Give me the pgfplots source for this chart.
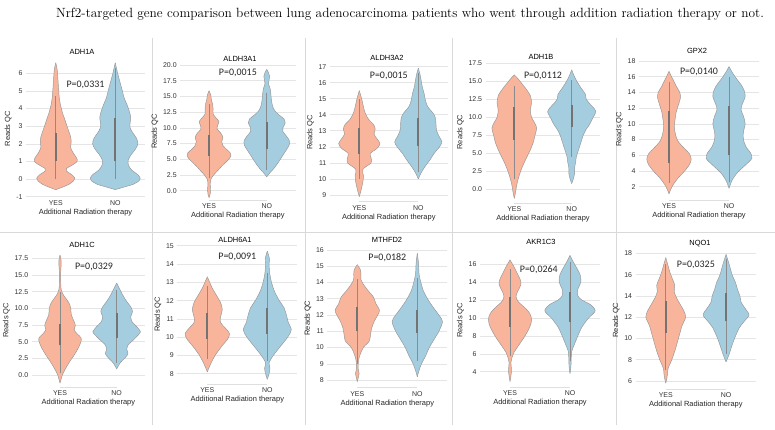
\documentclass[border=0pt]{standalone}
\usepackage{fontspec}
\newfontfamily\arial{Liberation Sans}
\newfontfamily\calibri{Carlito}
\usepackage{pgfplots}
\pgfplotsset{compat=1.18}
\usepackage{pgfplotstable}
\usepgfplotslibrary{fillbetween}

\definecolor{yescol}{HTML}{F8B59C}
\definecolor{nocol}{HTML}{A4CDE0}
\definecolor{vedge}{HTML}{959595}
\definecolor{sep}{HTML}{D9D9D9}

% violin outlines: y, half width (category units)
\pgfplotstableread{
y w
-0.6 0
-0.45 0.12
-0.3 0.22
-0.1 0.3
0.05 0.32
0.25 0.27
0.45 0.18
0.6 0.18
0.8 0.28
1.0 0.36
1.2 0.35
1.5 0.29
1.8 0.25
2.1 0.26
2.4 0.25
2.7 0.22
3.0 0.19
3.4 0.15
3.8 0.11
4.2 0.08
4.6 0.06
5.0 0.05
5.5 0.04
6.0 0.03
6.3 0.02
6.6 0
}\pAy
\pgfplotstableread{
y w
-0.6 0
-0.45 0.15
-0.3 0.3
-0.1 0.4
0.05 0.42
0.25 0.38
0.5 0.28
0.8 0.22
1.1 0.22
1.4 0.27
1.7 0.34
2.0 0.38
2.3 0.36
2.6 0.3
2.9 0.25
3.2 0.25
3.5 0.26
3.8 0.24
4.2 0.2
4.6 0.15
5.0 0.12
5.5 0.08
6.0 0.04
6.3 0.02
6.6 0
}\pAn
\pgfplotstableread{
y w
-1.1 0
-0.5 0.02
0.3 0.025
1.0 0.02
1.8 0.03
2.5 0.08
3.2 0.15
4.0 0.23
4.8 0.32
5.5 0.38
6.0 0.37
6.6 0.3
7.2 0.24
7.8 0.22
8.5 0.24
9.2 0.2
9.8 0.14
10.4 0.15
11.0 0.17
11.6 0.12
12.2 0.07
13.0 0.07
13.8 0.06
14.5 0.04
15.2 0.03
15.9 0
}\pBy
\pgfplotstableread{
y w
2.2 0
2.8 0.05
3.5 0.12
4.5 0.2
5.5 0.27
6.5 0.34
7.3 0.39
8.0 0.39
8.7 0.34
9.4 0.28
10.0 0.28
10.8 0.32
11.4 0.3
12.0 0.22
12.7 0.14
13.5 0.1
14.5 0.08
15.5 0.07
16.2 0.06
17.0 0.03
17.6 0.04
18.2 0.05
18.8 0.03
19.3 0
}\pBn
\pgfplotstableread{
y w
8.9 0
9.3 0.03
9.8 0.06
10.2 0.07
10.6 0.06
11.0 0.2
11.3 0.2
11.6 0.19
11.9 0.3
12.2 0.35
12.5 0.3
12.8 0.25
13.1 0.27
13.4 0.24
13.7 0.16
14.1 0.1
14.5 0.07
15.0 0.04
15.5 0
}\pCy
\pgfplotstableread{
y w
10.0 0
10.4 0.05
10.8 0.12
11.2 0.2
11.6 0.27
12.0 0.36
12.3 0.4
12.6 0.36
13.0 0.31
13.4 0.3
13.8 0.29
14.1 0.25
14.5 0.16
14.9 0.12
15.3 0.1
15.7 0.07
16.1 0.05
16.5 0.03
16.9 0
}\pCn
\pgfplotstableread{
y w
-1.25 0
-0.5 0.02
0.5 0.04
1.5 0.07
2.5 0.11
3.5 0.16
4.5 0.22
5.5 0.28
6.5 0.33
7.5 0.36
8.5 0.39
9.3 0.35
10.0 0.3
11.0 0.28
12.0 0.3
13.0 0.28
14.0 0.2
14.8 0.12
15.4 0.06
15.9 0
}\pDy
\pgfplotstableread{
y w
0.8 0
1.5 0.03
2.2 0.05
3.0 0.05
3.8 0.07
4.5 0.08
5.5 0.12
6.5 0.16
7.5 0.2
8.3 0.25
9.0 0.31
9.8 0.36
10.8 0.42
11.5 0.36
12.0 0.3
12.6 0.25
13.2 0.24
14.0 0.17
15.0 0.09
15.8 0.04
16.6 0
}\pDn
\pgfplotstableread{
y w
1.1 0
2.0 0.05
3.0 0.14
4.0 0.26
4.8 0.34
5.5 0.37
6.2 0.34
7.0 0.24
7.8 0.15
8.6 0.11
9.5 0.09
10.5 0.1
11.5 0.12
12.5 0.16
13.3 0.19
14.0 0.18
14.8 0.12
15.6 0.07
16.2 0.03
16.7 0
}\pEy
\pgfplotstableread{
y w
1.8 0
2.8 0.05
3.8 0.14
4.8 0.28
5.6 0.38
6.3 0.36
7.0 0.29
8.0 0.24
9.0 0.24
10.0 0.27
11.0 0.24
11.8 0.2
12.5 0.22
13.5 0.27
14.3 0.25
15.0 0.2
15.8 0.12
16.6 0.05
17.3 0
}\pEn
\pgfplotstableread{
y w
-1.2 0
-0.6 0.02
0 0.04
1.0 0.1
2.0 0.17
3.0 0.25
4.0 0.32
5.0 0.37
5.6 0.37
6.2 0.3
6.8 0.25
7.4 0.27
8.0 0.25
9.0 0.2
10.0 0.19
10.6 0.17
11.3 0.12
12.0 0.06
12.8 0.02
14.0 0.012
15.5 0.012
16.5 0.02
17.2 0.02
18.0 0
}\pFy
\pgfplotstableread{
y w
0.9 0
1.8 0.06
2.6 0.15
3.2 0.2
3.8 0.18
4.5 0.2
5.3 0.3
6.0 0.38
6.5 0.42
7.2 0.36
8.0 0.27
8.8 0.25
9.5 0.28
10.2 0.25
11.0 0.18
11.8 0.12
12.6 0.07
13.3 0.03
13.8 0
}\pFn
\pgfplotstableread{
y w
8.1 0
8.5 0.05
9.0 0.13
9.5 0.24
9.9 0.34
10.2 0.37
10.5 0.3
10.8 0.22
11.1 0.22
11.5 0.25
11.9 0.22
12.3 0.15
12.7 0.08
13.0 0.04
13.3 0
}\pGy
\pgfplotstableread{
y w
7.7 0
8.0 0.03
8.3 0.045
8.6 0.03
9.0 0.1
9.5 0.22
10.0 0.34
10.4 0.4
10.8 0.35
11.2 0.32
11.6 0.28
12.0 0.2
12.5 0.12
13.0 0.07
13.5 0.04
14.0 0.03
14.3 0.035
14.7 0
}\pGn
\pgfplotstableread{
y w
7.9 0
8.2 0.02
8.4 0.03
8.7 0.015
9.2 0.02
9.6 0.05
10.0 0.1
10.4 0.2
10.8 0.22
11.2 0.24
11.6 0.28
12.0 0.34
12.3 0.37
12.7 0.31
13.1 0.27
13.5 0.18
13.9 0.1
14.2 0.06
14.5 0.06
14.8 0.05
15.1 0
}\pHy
\pgfplotstableread{
y w
8.2 0
8.6 0.03
9.0 0.07
9.5 0.14
10.0 0.2
10.5 0.28
11.0 0.36
11.6 0.42
12.0 0.36
12.5 0.26
13.0 0.17
13.5 0.1
14.0 0.06
14.5 0.03
15.2 0.02
15.8 0
}\pHn
\pgfplotstableread{
y w
2.9 0
3.5 0.015
4.2 0.025
5.0 0.015
5.5 0.03
6.2 0.07
7.0 0.15
8.0 0.25
9.0 0.33
9.8 0.36
10.5 0.33
11.2 0.24
11.8 0.14
12.4 0.1
13.0 0.13
13.7 0.18
14.3 0.17
15.0 0.12
15.8 0.06
16.5 0
}\pIy
\pgfplotstableread{
y w
3.8 0
4.5 0.015
5.5 0.02
6.3 0.03
7.0 0.07
8.0 0.13
9.0 0.2
10.0 0.31
10.8 0.42
11.5 0.34
12.0 0.2
12.5 0.13
13.2 0.13
14.0 0.18
14.8 0.17
15.5 0.12
16.2 0.06
17.0 0
}\pIn
\pgfplotstableread{
y w
5.8 0
6.3 0.02
6.7 0.03
7.2 0.04
8.0 0.1
9.0 0.16
10.0 0.21
10.6 0.24
11.2 0.27
12.0 0.33
12.6 0.3
13.2 0.24
13.8 0.18
14.4 0.14
15.0 0.15
15.6 0.11
16.2 0.07
17.0 0.03
17.6 0
}\pJy
\pgfplotstableread{
y w
7.8 0
8.5 0.05
9.2 0.09
10.0 0.14
11.0 0.22
11.6 0.3
12.2 0.38
12.8 0.32
13.4 0.25
14.0 0.23
14.6 0.19
15.2 0.16
16.0 0.1
17.0 0.05
17.9 0
}\pJn

% #1 centre, #2 fill, #3 table, #4 q1, #5 q3, #6 whisker low, #7 whisker high
\newcommand{\violin}[7]{%
  \addplot[name path=R#1, draw=vedge, line width=0.45bp, smooth] table[x expr=#1+\thisrow{w}, y=y] {#3};
  \addplot[name path=L#1, draw=vedge, line width=0.45bp, smooth] table[x expr=#1-\thisrow{w}, y=y] {#3};
  \addplot[fill=#2, draw=none] fill between[of=R#1 and L#1];
  \addplot[draw=black!45, line width=0.6bp] coordinates {(#1,#6) (#1,#7)};
  \addplot[draw=black!55, line width=2.2bp] coordinates {(#1,#4) (#1,#5)};
}

\pgfplotsset{
  vio/.style={
    scale only axis, anchor=south west, clip=false,
    xmin=-0.5, xmax=1.5, xtick={0,1}, xticklabels={YES,NO},
    axis line style={draw=none}, major tick length=0pt,
    ymajorgrids, grid style={gray!20, line width=0.6bp},
    /pgf/number format/assume math mode=true,
    ticklabel style={font=\arial\fontsize{7}{8}\selectfont, text=black!80},
    label style={font=\arial\fontsize{7.5}{9}\selectfont, text=black!85},
    xlabel={Additional Radiation therapy}, ylabel={Reads QC},
    xlabel style={yshift=3bp}, ylabel style={yshift=-2bp},
  },
  dec/.style={yticklabel style={/pgf/number format/.cd, fixed, fixed zerofill, precision=1}},
}
\newcommand{\pval}[2]{\node[font=\calibri\fontsize{10}{12}\selectfont, text=black!85] at (axis cs:#1) {#2};}
\newcommand{\spine}{\draw[gray!25, line width=0.6bp] (rel axis cs:0.25,0) -- (rel axis cs:0.75,0);}

\begin{document}
\begin{tikzpicture}

% separators
\draw[sep, line width=0.6bp] (0bp,198bp) -- (775bp,198bp);
\foreach \xx in {152,305.5,452,616} {
  \draw[sep, line width=0.6bp] (\xx bp,392bp) -- (\xx bp,198bp);
  \draw[sep, line width=0.6bp] (\xx bp,198bp) -- (\xx bp,5bp);
}

\node[font=\fontsize{13.4}{15}\selectfont] at (410bp,416bp)
  {Nrf2-targeted gene comparison between lung adenocarcinoma patients who went through addition radiation therapy or not.};

% ---- top row
\begin{axis}[vio, at={(26bp,233.3bp)}, width=119bp, height=135.7bp,
  ymin=-1, ymax=6.7, ytick={-1,0,...,6}]
\violin{0}{yescol}{\pAy}{1.0}{2.6}{0}{4.7}
\violin{1}{nocol}{\pAn}{1.0}{3.45}{0}{6.3}
\pval{0.5,5.34}{P=0,0331}
\end{axis}
\node[font=\arial\fontsize{7.5}{9}\selectfont] at (82bp,378.3bp) {ADH1A};

\begin{axis}[vio, dec, at={(180.2bp,230bp)}, width=115.4bp, height=136.9bp,
  ymin=-1.48, ymax=20.3, ytick={0,2.5,5,7.5,10,12.5,15,17.5,20}]
\violin{0}{yescol}{\pBy}{5.5}{8.8}{2.0}{13.8}
\violin{1}{nocol}{\pBn}{6.6}{11.0}{3.3}{15.5}
\pval{0.5,18.7}{P=0,0015}
\spine
\end{axis}
\node[font=\arial\fontsize{7.5}{9}\selectfont] at (240bp,371bp) {ALDH3A1};

\begin{axis}[vio, at={(329.8bp,228.3bp)}, width=118bp, height=138.3bp,
  ymin=8.58, ymax=17.2, ytick={9,...,17}]
\violin{0}{yescol}{\pCy}{11.55}{13.2}{10.0}{15.0}
\violin{1}{nocol}{\pCn}{12.05}{13.8}{10.4}{16.6}
\pval{0.5,16.44}{P=0,0015}
\spine
\end{axis}
\node[font=\arial\fontsize{7.5}{9}\selectfont] at (387bp,372bp) {ALDH3A2};

\begin{axis}[vio, dec, at={(485.6bp,227bp)}, width=114.8bp, height=141.8bp,
  ymin=-1.9, ymax=17.8, ytick={0,2.5,5,7.5,10,12.5,15,17.5}]
\violin{0}{yescol}{\pDy}{6.8}{11.5}{1.5}{14.4}
\violin{1}{nocol}{\pDn}{8.7}{11.7}{4.5}{15.2}
\pval{0.5,15.74}{P=0,0112}
\spine
\end{axis}
\node[font=\arial\fontsize{7.5}{9}\selectfont] at (541bp,373bp) {ADH1B};

\begin{axis}[vio, at={(639bp,230bp)}, width=120bp, height=141.3bp,
  ymin=0.31, ymax=18.3, ytick={2,4,...,18}]
\violin{0}{yescol}{\pEy}{5.0}{11.7}{2.5}{15.3}
\violin{1}{nocol}{\pEn}{6.0}{12.3}{2.6}{16.0}
\pval{0.5,16.56}{P=0,0140}
\spine
\end{axis}
\node[font=\arial\fontsize{7.5}{9}\selectfont] at (697bp,379.3bp) {GPX2};

% ---- bottom row
\begin{axis}[vio, dec, at={(31.7bp,43bp)}, width=113.3bp, height=133.3bp,
  ymin=-1.8, ymax=18.2, ytick={0,2.5,5,7.5,10,12.5,15,17.5}]
\violin{0}{yescol}{\pFy}{4.5}{7.6}{0.3}{12.5}
\violin{1}{nocol}{\pFn}{5.5}{9.3}{1.8}{12.8}
\pval{0.6,16.24}{P=0,0329}
\spine
\end{axis}
\node[font=\arial\fontsize{7.5}{9}\selectfont] at (82bp,185bp) {ADH1C};

\begin{axis}[vio, at={(177.3bp,46bp)}, width=120bp, height=139.2bp,
  ymin=7.44, ymax=15.05, ytick={8,...,15}]
\violin{0}{yescol}{\pGy}{9.9}{11.3}{8.8}{12.8}
\violin{1}{nocol}{\pGn}{10.2}{11.6}{8.7}{13.5}
\pval{0.5,14.4}{P=0,0091}
\spine
\end{axis}
\node[font=\arial\fontsize{7.5}{9}\selectfont] at (235bp,190bp) {ALDH6A1};

\begin{axis}[vio, at={(327.3bp,42.3bp)}, width=120bp, height=139.3bp,
  ymin=7.53, ymax=16.1, ytick={8,...,16}]
\violin{0}{yescol}{\pHy}{11.0}{12.5}{9.0}{14.2}
\violin{1}{nocol}{\pHn}{10.9}{12.3}{9.2}{14.3}
\pval{0.5,15.55}{P=0,0182}
\spine
\end{axis}
\node[font=\arial\fontsize{7.5}{9}\selectfont] at (387bp,190bp) {MTHFD2};

\begin{axis}[vio, at={(480bp,43bp)}, width=120bp, height=133.4bp,
  ymin=2.29, ymax=17.2, ytick={4,6,...,16}]
\violin{0}{yescol}{\pIy}{9.0}{12.3}{5.8}{15.5}
\violin{1}{nocol}{\pIn}{9.6}{12.9}{5.2}{16.3}
\pval{0.48,15.44}{P=0,0264}
\spine
\end{axis}
\node[font=\arial\fontsize{7.5}{9}\selectfont] at (541bp,187.7bp) {AKR1C3};

\begin{axis}[vio, at={(635.6bp,41bp)}, width=120.6bp, height=137.8bp,
  ymin=5.25, ymax=18.2, ytick={6,8,...,18}]
\violin{0}{yescol}{\pJy}{10.5}{13.5}{7.0}{17.0}
\violin{1}{nocol}{\pJn}{11.6}{14.3}{8.5}{17.5}
\pval{0.5,16.9}{P=0,0325}
\spine
\end{axis}
\node[font=\arial\fontsize{7.5}{9}\selectfont] at (700bp,186.7bp) {NQO1};

\pgfresetboundingbox
\path (0bp,0bp) rectangle (775bp,430bp);
\end{tikzpicture}
\end{document}
